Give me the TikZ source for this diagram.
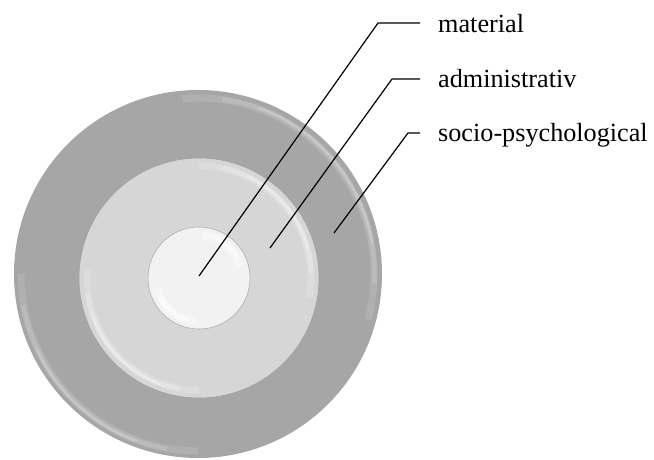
\documentclass[tikz,border=0pt]{standalone}
\usepackage{fontspec}
\setmainfont{Liberation Serif}
\begin{document}
\begin{tikzpicture}[x=1pt,y=-1pt,
  lab/.style={anchor=base west,inner sep=0pt,font=\fontsize{26.2}{30}\selectfont},
  leader/.style={draw=black,line width=1.2pt},
  hl/.style={draw=white,line cap=butt}]
\useasboundingbox (0,0) rectangle (654,459);
% outer ring
\fill[fill={rgb,255:red,166;green,166;blue,166}] (198,274) circle (184);
\begin{scope}
\clip (198,274) circle (184);
\draw[hl,opacity=0.12,line width=7] (198,274) ++(-95:176) arc (-95:15:176);
\draw[hl,opacity=0.15,line width=4.5] (198,274) ++(-82:176.5) arc (-82:3:176.5);
\draw[hl,opacity=0.2,line width=2] (198,274) ++(-70:177) arc (-70:-10:177);
\draw[hl,opacity=0.12,line width=7] (198,274) ++(90:177) arc (90:180:177);
\draw[hl,opacity=0.15,line width=4.5] (198,274) ++(100:177.5) arc (100:170:177.5);
\draw[hl,opacity=0.2,line width=2] (198,274) ++(110:178) arc (110:155:178);
\end{scope}
% middle disc
\fill[fill={rgb,255:red,214;green,214;blue,214},draw={rgb,255:red,160;green,160;blue,160},line width=0.6] (199,278) circle (120);
\begin{scope}
\clip (199,278) circle (120);
\draw[hl,opacity=0.15,line width=7] (199,278) ++(-90:112) arc (-90:10:112);
\draw[hl,opacity=0.2,line width=4.5] (199,278) ++(-78:112.5) arc (-78:-2:112.5);
\draw[hl,opacity=0.3,line width=2] (199,278) ++(-65:113) arc (-65:-15:113);
\draw[hl,opacity=0.15,line width=7] (199,278) ++(90:112) arc (90:185:112);
\draw[hl,opacity=0.2,line width=4.5] (199,278) ++(100:112.5) arc (100:172:112.5);
\draw[hl,opacity=0.3,line width=2] (199,278) ++(110:113) arc (110:160:113);
\end{scope}
% inner disc
\fill[fill={rgb,255:red,242;green,242;blue,242},draw={rgb,255:red,175;green,175;blue,175},line width=0.6] (199,278) circle (51);
\begin{scope}
\clip (199,278) circle (51);
\draw[hl,opacity=0.35,line width=8] (199,278) ++(-85:43) arc (-85:-15:43);
\draw[hl,opacity=0.5,line width=4] (199,278) ++(-75:43) arc (-75:-25:43);
\draw[hl,opacity=0.35,line width=8] (199,278) ++(95:43) arc (95:165:43);
\draw[hl,opacity=0.5,line width=4] (199,278) ++(105:43) arc (105:155:43);
\end{scope}
% labels
\node[lab] (mat) at (438,32) {material};
\node[lab] (adm) at (438,87) {administrativ};
\node[lab] (soc) at (438,141) {socio-psychological};
% leader points
\coordinate (mp) at (199,276);
\coordinate (mc) at (378,23);
\coordinate (me) at (420,23);
\coordinate (ap) at (270,248);
\coordinate (ac) at (392,79);
\coordinate (ae) at (420,79);
\coordinate (sp) at (334,233);
\coordinate (sc) at (408,133);
\coordinate (se) at (420,133);
\draw[leader] (mp) -- (mc) -- (me);
\draw[leader] (ap) -- (ac) -- (ae);
\draw[leader] (sp) -- (sc) -- (se);
\end{tikzpicture}
\end{document}
